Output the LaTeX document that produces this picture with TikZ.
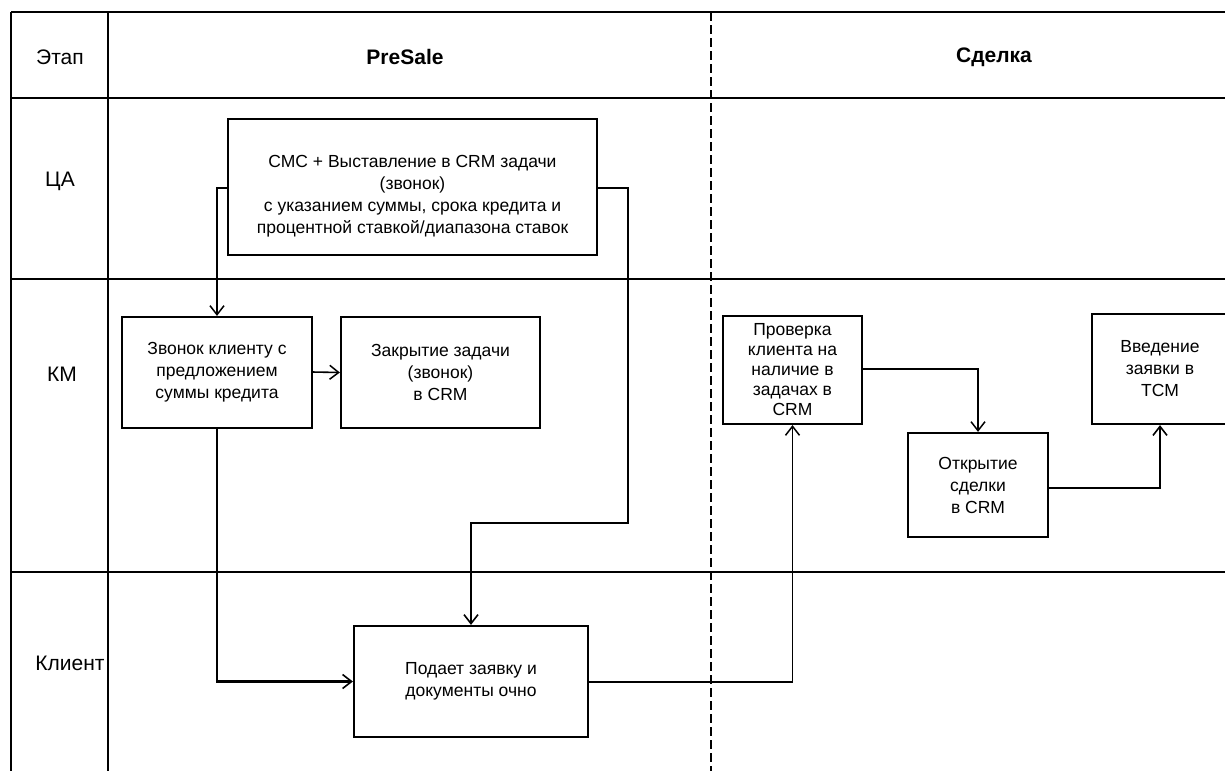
\documentclass[tikz,border=0pt]{standalone}
\usepackage{fontspec}
\setmainfont{Liberation Sans}
\usetikzlibrary{arrows.meta}
\tikzset{
  grid/.style={line width=2pt},
  lane/.style={line width=1.6pt, dash pattern=on 9pt off 4pt},
  box/.style={draw, line width=2.2pt, inner sep=0pt, align=center,
    font=\fontsize{17.5}{22}\selectfont},
  boxtext/.style={align=center, inner sep=0pt, font=\fontsize{17.5}{22}\selectfont},
  rowlabel/.style={font=\fontsize{21}{24}\selectfont, inner sep=0pt},
  headlabel/.style={font=\fontsize{21}{24}\selectfont\bfseries, inner sep=0pt},
  conn/.style={line width=2.2pt, -{Straight Barb[length=9pt,width=14pt,line width=1.6pt]}},
  thinconn/.style={line width=1.6pt, -{Straight Barb[length=9pt,width=14pt,line width=1.5pt]}}
}
\begin{document}
\begin{tikzpicture}[x=1pt,y=-1pt]
\useasboundingbox (0,0) rectangle (1225,771);
\fill[white] (0,0) rectangle (1225,771);

% grid
\draw[grid] (11,12) -- (1225,12);
\draw[grid] (11,12) -- (11,771);
\draw[grid] (108,12) -- (108,771);
\draw[grid] (11,98) -- (1225,98);
\draw[grid] (11,279) -- (1225,279);
\draw[grid] (11,572) -- (1225,572);
\draw[lane] (711,12) -- (711,771);

% header and row labels
\node[rowlabel] (etap) at (60,57) {Этап};
\node[headlabel] (presale) at (405,57) {PreSale};
\node[headlabel] (sdelka) at (994,57) {Сделка};
\node[rowlabel] (ca) at (60,181) {ЦА};
\node[rowlabel] (km) at (62,374) {КМ};
\node[rowlabel] (klient) at (70,663) {Клиент};

% boxes
\node[box, minimum width=369pt, minimum height=136pt] (cmc) at (412.5,187) {};
\node[boxtext] (cmctext) at (412.5,196.5) {СМС + Выставление в CRM задачи\\(звонок)\\с указанием суммы, срока кредита и\\процентной ставкой/диапазона ставок};
\node[box, minimum width=190pt, minimum height=111pt] (call) at (217,372.5) {Звонок клиенту с\\предложением\\суммы кредита};
\node[box, minimum width=199pt, minimum height=111pt] (close) at (440.5,372.5) {Закрытие задачи\\(звонок)\\в CRM};
\node[box, minimum width=234pt, minimum height=111pt] (client) at (471,681.5) {Подает заявку и\\документы очно};
\node[box, minimum width=139pt, minimum height=108pt, font=\fontsize{17.5}{20}\selectfont] (check) at (792.5,370) {Проверка\\клиента на\\наличие в\\задачах в\\CRM};
\node[box, minimum width=140pt, minimum height=104pt] (open) at (978,485) {Открытие\\сделки\\в CRM};
\node[box, minimum width=136pt, minimum height=110pt] (enter) at (1160,369) {Введение\\заявки в\\ТСМ};

% connectors
\coordinate (cmcL) at (228.5,188);
\coordinate (cmcR) at (596.5,188);
\coordinate (bendA) at (628,523);
\coordinate (callR) at (312,372);
\coordinate (clientR) at (588,682);
\coordinate (checkR) at (862,369);
\coordinate (openR) at (1048,488);

\draw[thinconn] (cmcL) -| (call.north);
\draw[conn] (cmcR) -| (bendA) -| (client.north);
\draw[thinconn] (callR) -- (close.west);
\draw[conn] (call.south) |- (client.west);
\draw[thinconn] (clientR) -| (check.south);
\draw[thinconn] (checkR) -| (open.north);
\draw[conn] (openR) -| (enter.south);
\end{tikzpicture}
\end{document}
